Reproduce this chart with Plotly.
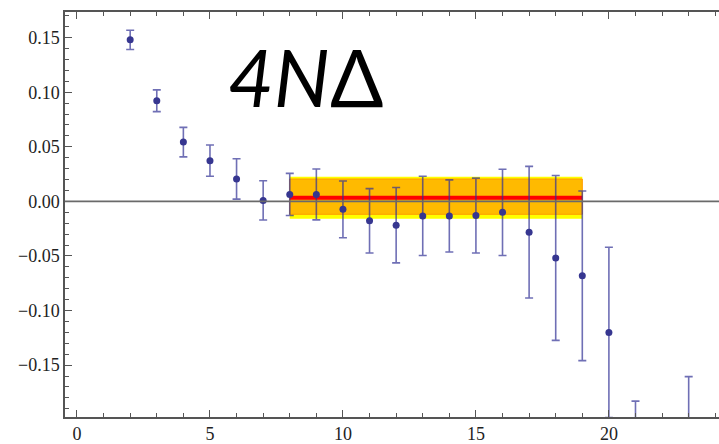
import plotly.graph_objects as go

# data points: time slice, value, error
t_vals = [2, 3, 4, 5, 6, 7, 8, 9, 10, 11, 12, 13, 14, 15, 16, 17, 18, 19, 20, 21, 23]
y_vals = [0.148, 0.0922, 0.0543, 0.0373, 0.0206, 0.0009, 0.0064, 0.0064, -0.0073, -0.0178,
          -0.0218, -0.0133, -0.0133, -0.0130, -0.0100, -0.0282, -0.0518, -0.0682, -0.1200,
          -0.2600, -0.2400]
err_vals = [0.0088, 0.0100, 0.0135, 0.0143, 0.0185, 0.0180, 0.0193, 0.0233, 0.0260, 0.0295,
            0.0345, 0.0363, 0.0330, 0.0343, 0.0395, 0.0603, 0.0755, 0.0777, 0.0780,
            0.0770, 0.0795]

# fit result over plateau
fit_range = [8, 19]
fit_value = 0.0033
fit_stat = [-0.0118, 0.0205]   # inner (orange) band
fit_total = [-0.0160, 0.0225]  # outer (yellow) band

title_text = "<i>4N</i>Δ"

fig = go.Figure()

def band(lo, hi, fill, line_color, lw):
    x0, x1 = fit_range
    return go.Scatter(x=[x0, x1, x1, x0, x0], y=[lo, lo, hi, hi, lo], mode="lines",
                      fill="toself", fillcolor=fill,
                      line=dict(color=line_color, width=lw), hoverinfo="skip",
                      showlegend=False)

fig.add_trace(band(fit_total[0], fit_total[1], "#FFFF00", "#FFFF00", 0))
fig.add_trace(band(fit_stat[0], fit_stat[1], "#FFBA00", "#FF9A00", 1))
fig.add_trace(go.Scatter(x=fit_range, y=[fit_value, fit_value], mode="lines",
                         line=dict(color="#FF0000", width=4), showlegend=False))

fig.add_trace(go.Scatter(
    x=t_vals, y=y_vals, mode="markers",
    marker=dict(color="#363690", size=7),
    error_y=dict(type="data", array=err_vals, visible=True,
                 color="rgba(50,50,150,0.7)", thickness=1.6, width=4),
    showlegend=False, cliponaxis=True))

fig.add_shape(type="line", xref="paper", x0=0, x1=1, yref="y", y0=0, y1=0,
              line=dict(color="#6a6a6a", width=1.6), layer="above")

fig.add_annotation(text=title_text, xref="paper", yref="paper", x=0.367, y=0.84,
                   xanchor="center", yanchor="middle", showarrow=False,
                   font=dict(family="Lato", size=79, color="black"))

serif = "Liberation Serif"
fig.update_layout(
    width=719, height=444, margin=dict(l=65, r=0, t=12, b=23),
    paper_bgcolor="white", plot_bgcolor="white",
    font=dict(family=serif, size=18, color="#222"),
    xaxis=dict(range=[-0.451, 24.14], tickmode="linear", tick0=0, dtick=5,
               ticks="inside", ticklen=7, tickwidth=1.3, tickcolor="#555",
               showline=True, linecolor="#555", linewidth=1.5, mirror="allticks",
               showgrid=False, zeroline=False,
               tickfont=dict(family=serif, size=18, color="#222"),
               minor=dict(dtick=1, ticks="inside", ticklen=4, tickwidth=1.2,
                          tickcolor="#555", showgrid=False)),
    yaxis=dict(range=[-0.1975, 0.1735], tickmode="linear", tick0=0, dtick=0.05,
               tickformat=".2f", ticks="inside", ticklen=7, tickwidth=1.3,
               tickcolor="#555", showline=True, linecolor="#555", linewidth=1.5,
               mirror=False, showgrid=False, zeroline=False,
               tickfont=dict(family=serif, size=18, color="#222"),
               minor=dict(dtick=0.01, ticks="inside", ticklen=4, tickwidth=1.2,
                          tickcolor="#555", showgrid=False)),
)

fig.write_html("out.html")
